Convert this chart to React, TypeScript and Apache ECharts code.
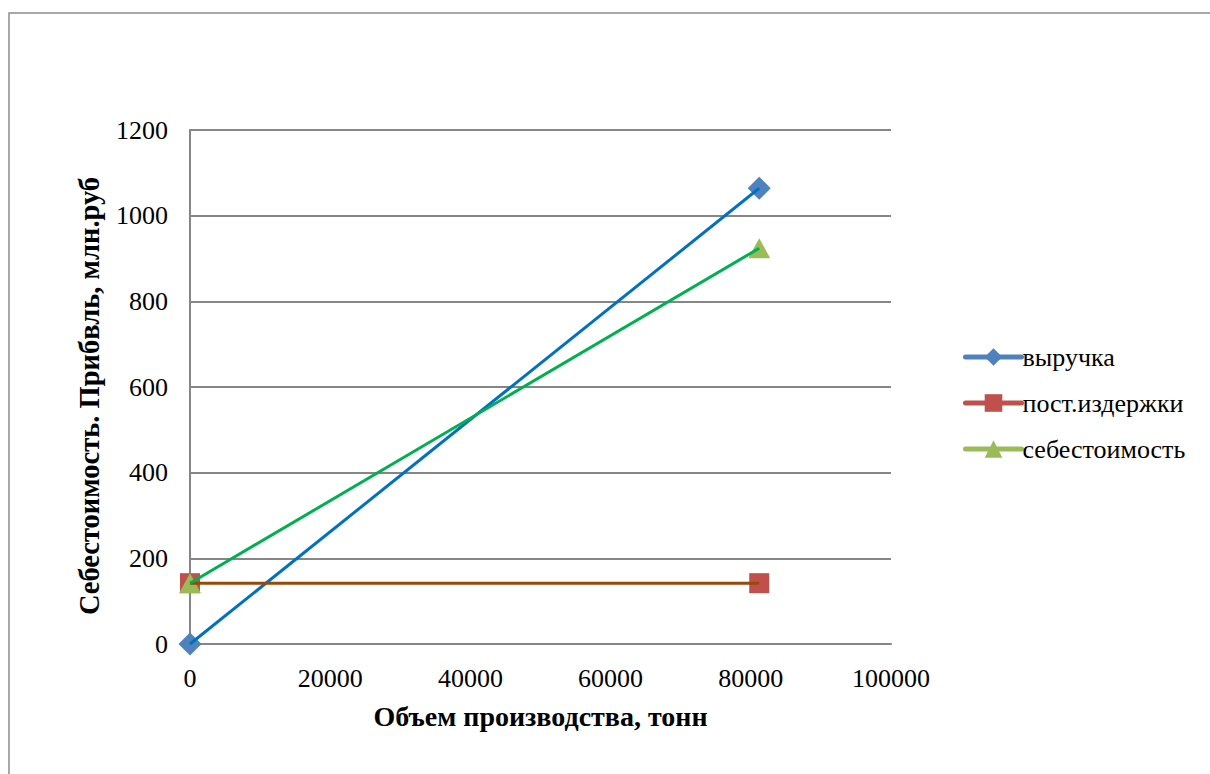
import React, { useEffect, useRef } from "react";
import * as echarts from "echarts";

const volumes = [0, 81200];
const revenue = [0, 1064];
const fixedCosts = [142, 142];
const totalCost = [142, 924];
const seriesNames = ["выручка", "пост.издержки", "себестоимость"];
const lineColors = ["#0070C0", "#984807", "#00B050"];
const markerColors = ["#4F81BD", "#C0504D", "#9BBB59"];
const markerSymbols = ["diamond", "rect", "triangle"];
const markerSizes: any[] = [[23, 23], [20, 20], [22, 20]];

const FONT = "'Liberation Serif', 'Times New Roman', serif";

export default function App() {
  const ref = useRef<HTMLDivElement>(null);
  useEffect(() => {
    if (!ref.current) return;
    const chart = echarts.init(ref.current, null, { renderer: "svg" });
    const sets = [revenue, fixedCosts, totalCost];
    const series: any[] = [];
    sets.forEach((vals, i) => {
      const pts = volumes.map((x, j) => [x, vals[j]]);
      series.push({
        type: "scatter",
        name: seriesNames[i] + " ",
        data: pts,
        symbol: markerSymbols[i],
        symbolSize: markerSizes[i],
        itemStyle: { color: markerColors[i], opacity: 1 },
        z: 2,
        silent: true,
      });
    });
    sets.forEach((vals, i) => {
      const pts = volumes.map((x, j) => [x, vals[j]]);
      series.push({
        type: "line",
        name: seriesNames[i],
        data: pts,
        symbol: markerSymbols[i],
        showSymbol: false,
        lineStyle: { color: lineColors[i], width: 3 },
        itemStyle: { color: markerColors[i] },
        z: 3,
      });
    });
    const fmt = (v: number) => String(v);
    chart.setOption({
      animation: false,
      backgroundColor: "#fff",
      textStyle: { fontFamily: FONT },
      graphic: [
        {
          type: "rect",
          shape: { x: 9, y: 13, width: 1300, height: 900 },
          style: { fill: "none", stroke: "#8c8c8c", lineWidth: 1.5 },
          silent: true,
        },
      ],
      grid: { left: 190, top: 130, right: 319, bottom: 130 },
      legend: {
        orient: "vertical",
        left: 958,
        top: 339,
        itemWidth: 56,
        itemHeight: 22,
        itemGap: 20,
        textStyle: { fontFamily: FONT, fontSize: 26, lineHeight: 26, color: "#000", padding: [0, 0, 0, -4] },
        data: seriesNames.map((n, i) => ({
          name: n,
          itemStyle: { color: markerColors[i] },
          lineStyle: { color: markerColors[i], width: 5, cap: "round" },
        })),
      },
      xAxis: {
        type: "value",
        min: 0,
        max: 100000,
        interval: 20000,
        name: "Объем производства, тонн",
        nameLocation: "middle",
        nameGap: 58,
        nameTextStyle: { fontFamily: FONT, fontSize: 28, fontWeight: "bold", color: "#000" },
        axisLine: { show: true, lineStyle: { color: "#868686", width: 2 } },
        axisTick: { show: false },
        splitLine: { show: false },
        axisLabel: { fontFamily: FONT, fontSize: 26, color: "#000", margin: 21, formatter: fmt },
      },
      yAxis: {
        type: "value",
        min: 0,
        max: 1200,
        interval: 200,
        name: "Себестоимость. Прибвль, млн.руб",
        nameLocation: "middle",
        nameGap: 86,
        nameRotate: 90,
        nameTextStyle: {
          fontFamily: FONT,
          fontSize: 28.5,
          fontWeight: "bold",
          color: "#000",
          padding: [0, 18, 0, 0],
        },
        axisLine: { show: true, onZero: false, lineStyle: { color: "#868686", width: 2 } },
        axisTick: { show: false },
        splitLine: { show: true, lineStyle: { color: "#868686", width: 2 } },
        axisLabel: { fontFamily: FONT, fontSize: 26, color: "#000", margin: 22, formatter: fmt },
      },
      series,
    });
    return () => chart.dispose();
  }, []);
  return (
    <div
      ref={ref}
      style={{ position: "fixed", left: 0, top: 0, width: 1210, height: 774 }}
    />
  );
}
